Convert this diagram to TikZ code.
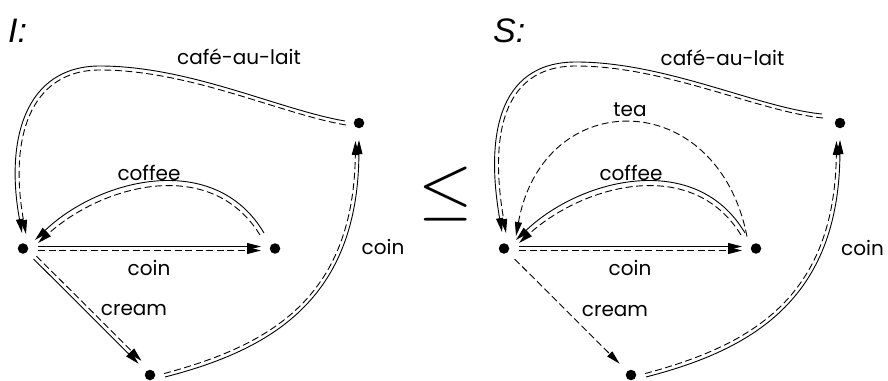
\documentclass[tikz,border=0pt]{standalone}
\usepackage{fontspec}
\newfontfamily\lblfont{Poppins}
\newfontfamily\capfont{Liberation Sans}
\usetikzlibrary{arrows.meta,calc}
\begin{document}
\begin{tikzpicture}[x=1pt,y=-1pt,
  st/.style={circle,fill=black,inner sep=0pt,minimum size=10.5pt},
  must/.style={line width=0.9pt,-{Triangle[length=14pt,width=7pt]}},
  may/.style={line width=0.9pt,dash pattern=on 7pt off 3.5pt,-{Triangle[length=14pt,width=7pt]}},
  lbl/.style={font=\lblfont\fontsize{20}{20}\selectfont,inner sep=0pt,anchor=base},
  ttl/.style={font=\capfont\itshape\fontsize{34}{34}\selectfont,inner sep=0pt,anchor=base west}]
\useasboundingbox (0,0) rectangle (888,380);

% ---------- I ----------
\node[st] (a1) at (23,248.5) {};
\node[st] (b1) at (275,248.5) {};
\node[st] (c1) at (150,375) {};
\node[st] (d1) at (359,123) {};

\draw[must] ($(a1)+(15,-2)$) -- ($(b1)+(-14,-2)$);
\draw[may]  ($(a1)+(15,2)$) -- ($(b1)+(-14,2)$);

\draw[must] ($(b1)+(-11,-15.5)$) .. controls (215,150) and (100,178) .. ($(a1)+(12,-8.5)$);
\draw[may]  ($(b1)+(-15,-13.5)$) .. controls (211,155.5) and (103,184.5) .. ($(a1)+(15,-5.5)$);

\draw[must] ($(a1)+(10.65,10.56)$) -- ($(c1)+(-11.36,-11.26)$);
\draw[may]  ($(a1)+(13.5,7.7)$) -- ($(c1)+(-8.5,-14.1)$);

\draw[must] ($(c1)+(15,2)$) .. controls (270,350) and (358,300) .. ($(d1)+(0,17)$);
\draw[may]  ($(c1)+(14,-1.4)$) .. controls (268,345.5) and (353.5,299.5) .. ($(d1)+(-3.5,18)$);

\draw[must] ($(d1)+(-14,-2)$) .. controls (280,110) and (190,66) .. (100,66) .. controls (25,66) and (5,140) .. ($(a1)+(-1,-15.5)$);
\draw[may]  ($(d1)+(-13,2)$) .. controls (281,114) and (190,70) .. (100,70) .. controls (29,70) and (9,140) .. ($(a1)+(3,-14.5)$);

\node[lbl] (l1) at (239,64) {café-au-lait};
\node[lbl] (l2) at (149,180) {coffee};
\node[lbl] (l3) at (149,275) {coin};
\node[lbl] (l4) at (134,315) {cream};
\node[lbl] (l5) at (383,254.5) {coin};
\node[ttl] (t1) at (8,42) {I:};

\node[scale=7] (le) at (446,194) {$\leq$};

% ---------- S ----------
\node[st] (a2) at (504,248.5) {};
\node[st] (b2) at (756,248.5) {};
\node[st] (c2) at (631,375) {};
\node[st] (d2) at (840,123) {};

\draw[must] ($(a2)+(15,-2)$) -- ($(b2)+(-14,-2)$);
\draw[may]  ($(a2)+(15,2)$) -- ($(b2)+(-14,2)$);

\draw[must] ($(b2)+(-11,-15.5)$) .. controls (696,150) and (581,178) .. ($(a2)+(12,-8.5)$);
\draw[may]  ($(b2)+(-15,-13.5)$) .. controls (692,155.5) and (584,184.5) .. ($(a2)+(15,-5.5)$);

\draw[may] ($(b2)+(-9,-12)$) .. controls (717,85) and (543,85) .. ($(a2)+(12,-12.5)$);

\draw[may] ($(a2)+(10.65,10.56)$) -- ($(c2)+(-11.36,-11.26)$);

\draw[must] ($(c2)+(15,2)$) .. controls (751,350) and (839,300) .. ($(d2)+(0,17)$);
\draw[may]  ($(c2)+(14,-1.4)$) .. controls (749,345.5) and (834.5,299.5) .. ($(d2)+(-3.5,18)$);

\draw[must] ($(d2)+(-18,-9)$) .. controls (759,108) and (666,62) .. (576,62) .. controls (496,62) and (486,140) .. ($(a2)+(-2,-16.5)$);
\draw[may]  ($(d2)+(-17,-5)$) .. controls (760,112) and (666,66) .. (576,66) .. controls (500,66) and (490,140) .. ($(a2)+(2,-15.5)$);

\node[lbl] (m1) at (722.5,65) {café-au-lait};
\node[lbl] (m6) at (630,116) {tea};
\node[lbl] (m2) at (631,180) {coffee};
\node[lbl] (m3) at (630,275) {coin};
\node[lbl] (m4) at (615,316) {cream};
\node[lbl] (m5) at (862.5,255) {coin};
\node[ttl] (t2) at (493,42) {S:};
\end{tikzpicture}
\end{document}
